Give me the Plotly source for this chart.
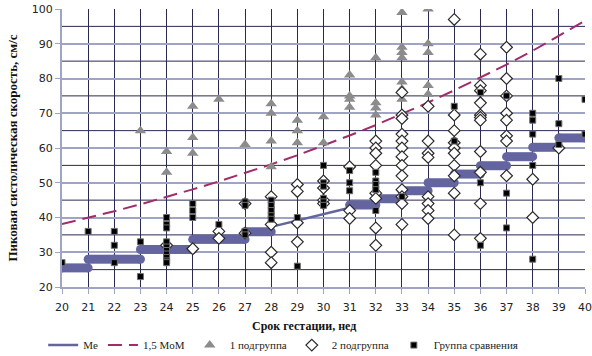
import plotly.graph_objects as go

# ---- data -------------------------------------------------------------
weeks = list(range(20, 41))
tick_labels = [str(w) for w in weeks]
y_major = list(range(20, 101, 10))
y_minor = list(range(25, 100, 10))

# Median (Me) plateaus: value held over [week, week + 1]
me_step_weeks = [20, 21, 22, 23, 24, 25, 26, 27, 31, 32, 33, 34, 35, 36, 37, 38, 39]
me_step_values = [25.5, 28.0, 28.0, 30.8, 30.8, 33.7, 33.7, 35.9,
                  43.6, 45.4, 47.7, 50.0, 52.5, 54.9, 57.5, 60.2, 62.9]

# Me between the plateaus (thin segment)
me_line_weeks = [28, 29, 30, 31]
me_line_values = [37.3, 39.2, 41.0, 42.8]

# 1.5 MoM threshold
mom_weeks = weeks
mom_values = [38.1, 39.9, 41.8, 43.8, 45.9, 48.1, 50.4, 52.8, 55.3, 57.9, 60.7,
              63.6, 66.6, 69.8, 73.1, 76.6, 80.2, 84.0, 88.0, 92.2, 96.6]

# 1 подгруппа
subgroup1 = {
    23: [65],
    24: [59, 53],
    25: [72, 63, 58.5],
    26: [74],
    27: [61],
    28: [72.7, 70, 62, 54.6],
    29: [68, 65, 61.5],
    30: [69, 61.5],
    31: [81, 75, 74, 71.7],
    32: [86, 73, 71.5, 69.5],
    33: [99, 89, 87.5, 86, 79, 77, 74],
    34: [100, 90, 87.5, 78, 75.5],
}

# 2 подгруппа
subgroup2 = {
    24: [32],
    25: [31],
    26: [36, 34],
    27: [44, 35.5],
    28: [46, 38, 30, 27],
    29: [49.5, 47.5, 38.5, 33],
    30: [50.5, 48.5, 45, 44],
    31: [54.6, 42, 39.7],
    32: [62, 60, 58.5, 55, 47, 45.5, 37, 32],
    33: [76, 69.5, 68.5, 64, 62, 60, 57.5, 55, 52, 48, 46, 44, 38],
    34: [72, 62, 58.5, 57.3, 46, 44, 42, 39.7],
    35: [97, 69.5, 65, 61.5, 60, 58.5, 55, 52, 47, 35],
    36: [87, 78, 76.5, 73, 69.5, 68.8, 68, 59, 53, 44, 34],
    37: [89, 80, 75, 70, 68, 63.5, 62, 52],
    38: [51, 40],
    39: [60],
}

# Группа сравнения
control = {
    20: [27],
    21: [36],
    22: [36, 32, 27],
    23: [33, 23],
    24: [40, 38, 37, 33, 31.5, 30.5, 29.5, 28.5, 27.5, 27],
    25: [44, 42, 40],
    26: [38],
    27: [44.5, 43.5, 36, 35],
    28: [45, 43.5, 42, 40.5, 39.5],
    29: [40, 26],
    30: [55, 50, 49, 45.5, 44.5, 43.5],
    31: [53.5, 50, 47.7],
    32: [53, 50.5, 49.5, 48, 42],
    33: [46],
    35: [72, 62],
    36: [76, 50, 32],
    37: [75, 47, 37],
    38: [70, 68, 64, 55, 28],
    39: [80, 67, 61],
    40: [74, 64],
}


def flatten(groups):
    xs, ys = [], []
    for w, vals in groups.items():
        for v in vals:
            xs.append(w)
            ys.append(v)
    return xs, ys


ME_COLOR = "#6464A0"
MOM_COLOR = "#A02C6A"
GRID_DARK = "#2A2A50"
GRID_LIGHT = "#9FA3C4"
SERIF = "Liberation Serif"

X_MIN, X_MAX = weeks[0], weeks[-1]
Y_MIN, Y_MAX = y_major[0], y_major[-1]

fig = go.Figure()

# Intermediate horizontal rules (every 5 units, between the labelled ones)
hx, hy = [], []
for v in y_minor:
    hx += [X_MIN, X_MAX, None]
    hy += [v, v, None]
fig.add_trace(go.Scatter(
    x=hx, y=hy, mode="lines", showlegend=False, hoverinfo="none",
    line=dict(color=GRID_DARK, width=1),
))

# Thin Me line (legend entry)
fig.add_trace(go.Scatter(
    x=me_line_weeks, y=me_line_values, mode="lines", name="Me",
    line=dict(color=ME_COLOR, width=2.5),
))

# Thick Me plateaus
step_x, step_y = [], []
for w, v in zip(me_step_weeks, me_step_values):
    step_x += [w, w + 1, None]
    step_y += [v, v, None]
fig.add_trace(go.Scatter(
    x=step_x, y=step_y, mode="lines", showlegend=False, hoverinfo="skip",
    line=dict(color=ME_COLOR, width=9),
))
cap_x = [p for p in step_x if p is not None]
cap_y = [p for p in step_y if p is not None]
fig.add_trace(go.Scatter(
    x=cap_x, y=cap_y, mode="markers", showlegend=False, hoverinfo="skip",
    marker=dict(symbol="circle", size=9, color=ME_COLOR, line=dict(width=0)),
))

# 1,5 MoM
fig.add_trace(go.Scatter(
    x=mom_weeks, y=mom_values, mode="lines", name="1,5 MoM",
    line=dict(color=MOM_COLOR, width=2, dash="14px,7px"),
))

x1, y1 = flatten(subgroup1)
fig.add_trace(go.Scatter(
    x=x1, y=y1, mode="markers", name="1 подгруппа",
    marker=dict(symbol="triangle-up", size=10, color="#8C8C8C",
                line=dict(width=0)),
))

x2, y2 = flatten(subgroup2)
fig.add_trace(go.Scatter(
    x=x2, y=y2, mode="markers", name="2 подгруппа",
    marker=dict(symbol="diamond", size=9, color="white",
                line=dict(width=1.2, color="#2A2A2A")),
))

x3, y3 = flatten(control)
fig.add_trace(go.Scatter(
    x=x3, y=y3, mode="markers", name="Группа сравнения",
    marker=dict(symbol="square", size=6, color="black",
                line=dict(width=1, color="#707070")),
))

fig.update_layout(
    width=592, height=356,
    margin=dict(l=62, r=7, t=9, b=69, autoexpand=False),
    paper_bgcolor="white", plot_bgcolor="white",
    showlegend=True,
    legend=dict(
        orientation="h", x=-0.036, xanchor="left", y=-0.209, yanchor="middle",
        font=dict(family=SERIF, size=11, color="#222222"),
        bgcolor="rgba(0,0,0,0)",
    ),
    annotations=[dict(
        text="<b>Срок гестации, нед</b>", xref="paper", yref="paper",
        x=0.463, y=-0.14, xanchor="center", yanchor="middle", showarrow=False,
        font=dict(family=SERIF, size=12, color="#111111"),
    )],
    xaxis=dict(
        range=[X_MIN, X_MAX], tickmode="array", tickvals=weeks, ticktext=tick_labels,
        showgrid=True, gridcolor=GRID_DARK, gridwidth=1,
        showline=True, linecolor=GRID_LIGHT, linewidth=2,
        ticks="outside", ticklen=5, tickcolor=GRID_LIGHT,
        ticklabelstandoff=4, ticklabeloverflow="allow",
        tickfont=dict(family="DejaVu Sans", size=11, color="#222222"),
        zeroline=False, layer="below traces",
    ),
    yaxis=dict(
        range=[Y_MIN, Y_MAX], tickmode="array", tickvals=y_major,
        ticktext=[str(v) for v in y_major],
        showgrid=True, gridcolor=GRID_LIGHT, gridwidth=1.5,
        showline=True, linecolor=GRID_LIGHT, linewidth=2,
        ticks="outside", ticklen=5, tickcolor=GRID_LIGHT,
        tickfont=dict(family="DejaVu Sans", size=11, color="#222222"),
        zeroline=False, layer="below traces",
        title=dict(text="<b>Пиковая систолическая скорость, см/с</b>",
                   font=dict(family=SERIF, size=13, color="#111111"),
                   standoff=11),
    ),
)

fig.write_html("out.html")
